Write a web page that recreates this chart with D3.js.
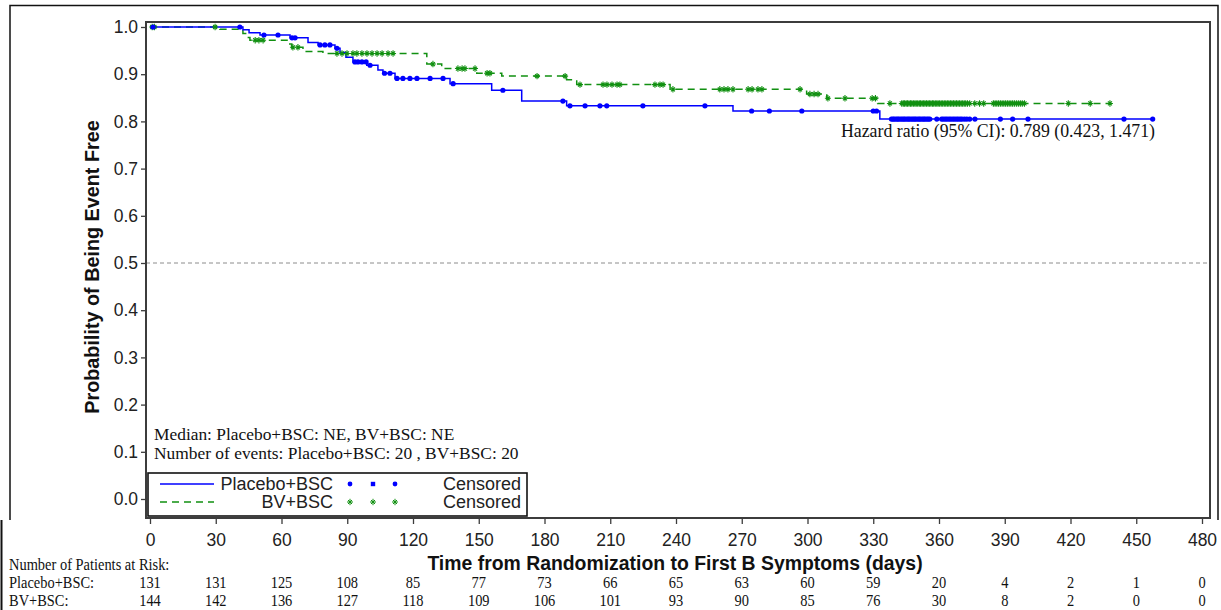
<!DOCTYPE html>
<html>
<head>
<meta charset="utf-8">
<script src="https://cdn.jsdelivr.net/npm/d3@7"></script>
<style>
  html, body { margin: 0; padding: 0; background: #fff; }
  svg { display: block; }
</style>
</head>
<body>
<svg id="chart" width="1221" height="610"></svg>
<script>
// Kaplan-Meier estimates: event days and survival after each event
const placeboEventDays = [42.4, 45.2, 50.2, 63.9, 72.1, 76.7, 84.4, 86.7, 89.4, 92.6, 98.9, 104.0, 106.3, 111.8, 136.9, 155.9, 169.6, 190.1, 266.0, 333.0];
const placeboSurv      = [0.994, 0.988, 0.983, 0.977, 0.967, 0.962, 0.955, 0.946, 0.936, 0.926, 0.919, 0.909, 0.902, 0.891, 0.880, 0.866, 0.843, 0.833, 0.822, 0.805];
const placeboLastDay = 457.5;

const bvEventDays = [31.9, 42.4, 44.1, 45.6, 63.0, 64.7, 69.8, 78.9, 126.3, 133.1, 149.1, 160.5, 190.1, 194.7, 237.3, 299.6, 308.8, 332.0];
const bvSurv      = [0.995, 0.986, 0.978, 0.972, 0.964, 0.957, 0.948, 0.944, 0.9215, 0.912, 0.902, 0.896, 0.888, 0.878, 0.868, 0.858, 0.849, 0.838];
const bvLastDay = 438.0;

// Censoring days
const placeboCensorDays = [1.4, 41.0, 52.0, 58.4, 64.8, 66.2, 77.6, 79.8, 82.1, 85.3, 93.5, 94.9, 96.7, 98.6, 100.4,
  107.0, 109.5, 112.7, 115.4, 118.6, 121.8, 127.8, 133.7, 138.3, 161.0, 188.4, 191.6, 198.5, 205.3, 208.4,
  224.9, 253.2, 274.5, 282.6, 297.4, 330.0, 331.5,
  338.3, 339.0, 339.6, 340.4, 341.1, 341.7, 342.5, 343.2, 343.9, 344.5, 345.3, 346.0, 346.6, 347.4, 348.1,
  348.8, 349.4, 350.2, 350.9, 351.5, 352.3, 353.0, 353.6, 354.4, 355.1, 355.8, 359.0,
  361.2, 362.0, 362.9, 363.7, 364.6, 365.4, 366.3, 367.1, 368.0, 368.8, 369.7, 370.5, 371.6, 372.7, 374.0,
  376.4, 388.0, 393.6, 400.6, 444.4, 457.5];

const bvCensorDays = [1.0, 2.0, 29.7, 48.0, 49.7, 51.6, 65.2, 67.5, 85.3, 87.6, 89.9, 92.6, 94.4, 96.7, 99.0,
  101.3, 103.6, 105.9, 108.6, 110.9, 129.1, 140.5, 142.4, 143.7, 148.3, 153.8, 155.1, 176.6, 189.4, 196.2,
  206.7, 208.5, 210.8, 213.1, 214.4, 230.4, 232.7, 234.1, 238.6, 260.0, 261.9, 263.7, 266.0, 272.9, 274.7,
  277.4, 279.2, 296.6, 301.1, 303.0, 304.8, 309.3, 317.1, 329.5, 331.0, 337.6,
  343.0, 343.7, 344.3, 345.0, 345.6, 346.3, 347.0, 347.6, 348.3, 349.0, 349.6, 350.3, 351.0, 351.6, 352.3,
  353.0, 353.6, 354.3, 355.0, 355.6, 356.3, 357.0, 357.6, 358.3, 359.0, 359.6,
  360.3, 361.0, 361.7, 362.4, 363.1, 363.8, 364.5, 365.2, 365.9, 366.6, 367.3, 368.0, 368.7, 369.4,
  370.1, 370.8, 371.5, 372.2, 373.0, 374.0, 376.3, 378.5, 380.4,
  384.8, 385.6, 386.4, 387.2, 388.0, 388.8, 389.6, 390.4, 391.2, 392.0, 392.8, 393.6, 394.4, 395.3,
  396.2, 397.1, 398.0, 399.0, 419.0, 429.0, 438.0];

// Number at risk table
const riskDays     = [0, 30, 60, 90, 120, 150, 180, 210, 240, 270, 300, 330, 360, 390, 420, 450, 480];
const placeboRisk  = [131, 131, 125, 108, 85, 77, 73, 66, 65, 63, 60, 59, 20, 4, 2, 1, 0];
const bvRisk       = [144, 142, 136, 127, 118, 109, 106, 101, 93, 90, 85, 76, 30, 8, 2, 0, 0];

const yTicks = [0, 0.1, 0.2, 0.3, 0.4, 0.5, 0.6, 0.7, 0.8, 0.9, 1.0];
const groupNames = ["Placebo+BSC", "BV+BSC"];
const hazardText = "Hazard ratio (95% CI): 0.789 (0.423, 1.471)";
const medianText = "Median: Placebo+BSC: NE, BV+BSC: NE";
const eventsText = "Number of events: Placebo+BSC: 20 , BV+BSC: 20";

const BLUE = "#0000ff", GREEN = "#119011", FRAME = "#3c3c3c";
const SANS = "'Liberation Sans', Arial, sans-serif";
const SERIF = "'Liberation Serif', 'Times New Roman', serif";

const svg = d3.select("#chart");

// Outer page border
svg.append("path")
  .attr("d", "M10,520 L10,5.5 L1218,5.5 L1218,520")
  .attr("fill", "none").attr("stroke", "#111").attr("stroke-width", 1.5);
svg.append("line").attr("x1", 1.5).attr("x2", 1.5).attr("y1", 520).attr("y2", 610)
  .attr("stroke", "#111").attr("stroke-width", 2);

const x = d3.scaleLinear().domain([0, 480]).range([150, 1202]);
const y = d3.scaleLinear().domain([0, 1]).range([499, 27]);

const frame = { left: 146, top: 22, right: 1210, bottom: 518 };

// Reference line at 0.5
svg.append("line")
  .attr("x1", frame.left).attr("x2", frame.right)
  .attr("y1", y(0.5)).attr("y2", y(0.5))
  .attr("stroke", "#8c8c8c").attr("stroke-width", 1).attr("stroke-dasharray", "4,3");

// Axes
const xAxis = d3.axisBottom(x).tickValues(riskDays).tickSize(6).tickSizeOuter(0).tickPadding(5);
const gx = svg.append("g").attr("transform", `translate(0,${frame.bottom})`).call(xAxis);
gx.select(".domain").remove();
gx.selectAll("line").attr("stroke", FRAME).attr("stroke-width", 1.3);
gx.selectAll("text").attr("font-family", SANS).attr("font-size", 17.5).attr("fill", "#222")
  .attr("dy", "0.95em");

const yAxis = d3.axisLeft(y).tickValues(yTicks).tickFormat(d3.format(".1f")).tickSize(5).tickPadding(3);
const gy = svg.append("g").attr("transform", `translate(${frame.left},0)`).call(yAxis);
gy.select(".domain").remove();
gy.selectAll("line").attr("stroke", FRAME).attr("stroke-width", 1.3);
gy.selectAll("text").attr("font-family", SANS).attr("font-size", 17.5).attr("fill", "#222");

// Plot frame
svg.append("rect")
  .attr("x", frame.left).attr("y", frame.top)
  .attr("width", frame.right - frame.left).attr("height", frame.bottom - frame.top)
  .attr("fill", "none").attr("stroke", FRAME).attr("stroke-width", 2);

// Step curves
function stepPoints(days, surv, lastDay) {
  const pts = [[0, 1]];
  days.forEach((d, i) => pts.push([d, surv[i]]));
  pts.push([lastDay, surv[surv.length - 1]]);
  return pts;
}
function survAt(days, surv, t) {
  let s = 1;
  for (let i = 0; i < days.length; i++) { if (days[i] <= t) s = surv[i]; }
  return s;
}
const stepLine = d3.line().x(d => x(d[0])).y(d => y(d[1])).curve(d3.curveStepAfter);

svg.append("path")
  .datum(stepPoints(bvEventDays, bvSurv, bvLastDay))
  .attr("d", stepLine).attr("fill", "none")
  .attr("stroke", GREEN).attr("stroke-width", 1.5).attr("stroke-dasharray", "7,5");

svg.append("path")
  .datum(stepPoints(placeboEventDays, placeboSurv, placeboLastDay))
  .attr("d", stepLine).attr("fill", "none")
  .attr("stroke", BLUE).attr("stroke-width", 1.5);

// Censor marks
const starPath = "M-3,0L3,0M0,-3.2L0,3.2M-2,-2L2,2M-2,2L2,-2";
svg.append("g").selectAll("path")
  .data(bvCensorDays).join("path")
  .attr("transform", d => `translate(${x(d)},${y(survAt(bvEventDays, bvSurv, d))})`)
  .attr("d", starPath).attr("stroke", GREEN).attr("stroke-width", 1.1).attr("fill", "none");

svg.append("g").selectAll("circle")
  .data(placeboCensorDays).join("circle")
  .attr("cx", d => x(d))
  .attr("cy", d => y(survAt(placeboEventDays, placeboSurv, d)))
  .attr("r", 2.6).attr("fill", BLUE);

// Annotations
svg.append("text").attr("x", 1155).attr("y", 137).attr("text-anchor", "end")
  .attr("font-family", SERIF).attr("font-size", 17.8).attr("fill", "#111").text(hazardText);
svg.append("text").attr("x", 154).attr("y", 440)
  .attr("font-family", SERIF).attr("font-size", 17.4).attr("fill", "#111").text(medianText);
svg.append("text").attr("x", 154).attr("y", 459)
  .attr("font-family", SERIF).attr("font-size", 17.4).attr("fill", "#111").text(eventsText);

// Legend
const lg = svg.append("g");
lg.append("rect").attr("x", 148).attr("y", 473).attr("width", 379).attr("height", 43)
  .attr("fill", "#fff").attr("stroke", "#111").attr("stroke-width", 1.6);
const legendRows = [
  { name: groupNames[0], color: BLUE, dash: null, yy: 484 },
  { name: groupNames[1], color: GREEN, dash: "7,5", yy: 502 }
];
legendRows.forEach((r, i) => {
  lg.append("line").attr("x1", 160).attr("x2", 214).attr("y1", r.yy).attr("y2", r.yy)
    .attr("stroke", r.color).attr("stroke-width", 1.3).attr("stroke-dasharray", r.dash);
  lg.append("text").attr("x", 333).attr("y", r.yy + 6).attr("text-anchor", "end")
    .attr("font-family", SANS).attr("font-size", 18).attr("fill", "#222").text(r.name);
  lg.append("text").attr("x", 521).attr("y", r.yy + 6).attr("text-anchor", "end")
    .attr("font-family", SANS).attr("font-size", 18).attr("fill", "#222").text("Censored");
  [350, 373, 395].forEach((mx, j) => {
    if (i === 0) {
      if (j === 1) lg.append("rect").attr("x", mx - 2.2).attr("y", r.yy - 2.2).attr("width", 4.4).attr("height", 4.4).attr("fill", BLUE);
      else lg.append("circle").attr("cx", mx).attr("cy", r.yy).attr("r", 2.4).attr("fill", BLUE);
    } else {
      lg.append("path").attr("transform", `translate(${mx},${r.yy})`).attr("d", starPath)
        .attr("stroke", GREEN).attr("stroke-width", 1).attr("fill", "none");
    }
  });
});

// Axis titles
svg.append("text")
  .attr("transform", "translate(99,267) rotate(-90)")
  .attr("text-anchor", "middle").attr("font-family", SANS).attr("font-weight", "bold")
  .attr("font-size", 19.8).attr("fill", "#111").text("Probability of Being Event Free");
svg.append("text").attr("x", 675).attr("y", 570).attr("text-anchor", "middle")
  .attr("font-family", SANS).attr("font-weight", "bold").attr("font-size", 19.4).attr("fill", "#111")
  .text("Time from Randomization to First B Symptoms (days)");

// Number at risk (condensed serif)
function narrowText(g, xx, yy, txt, anchor) {
  g.append("text").attr("transform", `translate(${xx},${yy}) scale(0.875,1)`)
    .attr("text-anchor", anchor).attr("font-family", SERIF).attr("font-size", 16.5)
    .attr("fill", "#111").text(txt);
}
const riskG = svg.append("g");
narrowText(riskG, 9, 570, "Number of Patients at Risk:", "start");
const riskRows = [
  { label: groupNames[0] + ":", values: placeboRisk, yy: 588 },
  { label: groupNames[1] + ":", values: bvRisk, yy: 606 }
];
riskRows.forEach(r => {
  narrowText(riskG, 9, r.yy, r.label, "start");
  r.values.forEach((v, i) => narrowText(riskG, x(riskDays[i]), r.yy, v, "middle"));
});
</script>
</body>
</html>
